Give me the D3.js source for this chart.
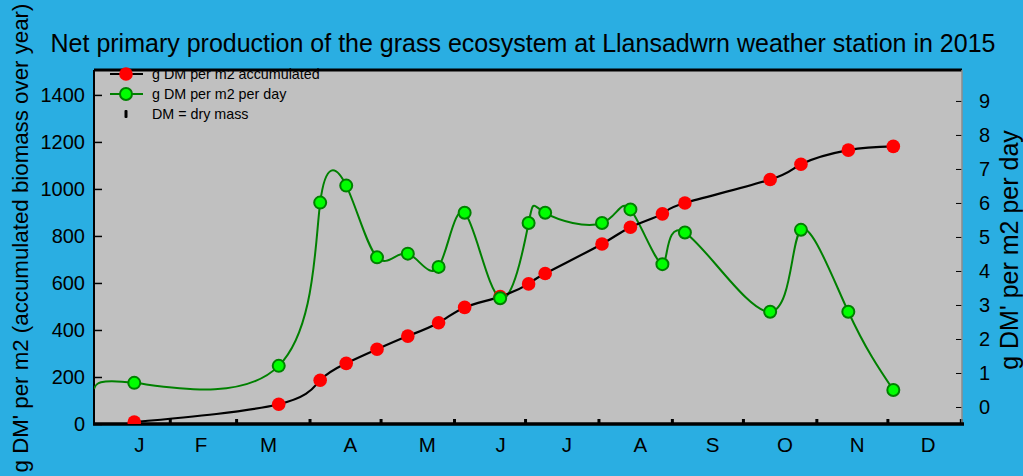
<!DOCTYPE html>
<html>
<head>
<meta charset="utf-8">
<script src="https://cdn.jsdelivr.net/npm/d3@7"></script>
<style>
  html, body { margin: 0; padding: 0; background: #2aaee2; }
  svg { display: block; font-family: "Liberation Sans", Arial, sans-serif; }
</style>
</head>
<body>
<div id="wrapper"></div>
<script>
// sampling dates (day of year, 0 = 1 Jan)
const sampleDays = [16, 77, 94.5, 105.5, 118.5, 131.5, 144.5, 155.5, 170.5, 182.5, 189.5, 213.5, 225.5, 239, 248.5, 284.5, 297.5, 317.5, 336.5]
// g DM per m2 accumulated (left axis)
const accumulated = [8, 84, 186, 258, 318, 374, 431, 496, 542, 596, 640, 766, 837, 894, 940, 1040, 1105, 1165, 1181]
// g DM per m2 per day (right axis)
const perDay = [0.71, 1.21, 6.01, 6.51, 4.40, 4.51, 4.12, 5.71, 3.20, 5.41, 5.71, 5.41, 5.81, 4.20, 5.13, 2.80, 5.21, 2.80, 0.50]
// where the daily curve enters at the left edge
const dailyLeadIn = { day: -1, value: 0.53 }

const monthNames = ["J", "F", "M", "A", "M", "J", "J", "A", "S", "O", "N", "D"]
const monthLabelDays = [18, 44, 72.5, 107, 139.5, 170.5, 198.5, 229.5, 260, 290.5, 321, 351]
const monthStartDays = [31, 59, 90, 120, 151, 181, 212, 243, 273, 304, 334, 365]
const leftTicks = [0, 200, 400, 600, 800, 1000, 1200, 1400]
const rightTicks = [0, 1, 2, 3, 4, 5, 6, 7, 8, 9]

const titleText = "Net primary production of the grass ecosystem at Llansadwrn weather station in 2015"
const leftTitle = "g DM' per m2 (accumulated biomass over year)"
const rightTitle = "g DM' per m2 per day"
const legendItems = ["g DM per m2 accumulated", "g DM per m2 per day", "DM = dry mass"]

const dimensions = {
    width: 1023,
    height: 476,
    margin: { top: 70, right: 61, bottom: 52, left: 94 }
}
dimensions.boundedWidth = dimensions.width - dimensions.margin.left - dimensions.margin.right
dimensions.boundedHeight = dimensions.height - dimensions.margin.top - dimensions.margin.bottom

const wrapper = d3.select("#wrapper")
    .append("svg")
    .attr("width", dimensions.width)
    .attr("height", dimensions.height)

wrapper.append("rect")
    .attr("width", dimensions.width)
    .attr("height", dimensions.height)
    .attr("fill", "#2aaee2")

const bounds = wrapper.append("g")
    .attr("transform", `translate(${dimensions.margin.left}, ${dimensions.margin.top})`)

const xScale = d3.scaleLinear()
    .domain([-1, 365.5])
    .range([0, dimensions.boundedWidth])

const yLeft = d3.scaleLinear()
    .domain([0, 1506])
    .range([dimensions.boundedHeight, 0])

const yRight = d3.scaleLinear()
    .domain([-0.5, 9.91])
    .range([dimensions.boundedHeight, 0])

// plot background
bounds.append("rect")
    .attr("width", dimensions.boundedWidth)
    .attr("height", dimensions.boundedHeight)
    .attr("fill", "#c0c0c0")

bounds.append("clipPath")
    .attr("id", "plot-clip")
    .append("rect")
    .attr("width", dimensions.boundedWidth)
    .attr("height", dimensions.boundedHeight)

// axes
const leftAxis = d3.axisLeft(yLeft)
    .tickValues(leftTicks)
    .tickSize(-8)
    .tickPadding(9)
    .tickFormat(d3.format("d"))
const leftAxisEl = bounds.append("g").call(leftAxis)

const rightAxis = d3.axisRight(yRight)
    .tickValues(rightTicks)
    .tickSize(-6)
    .tickPadding(17)
    .tickFormat(d3.format("d"))
const rightAxisEl = bounds.append("g")
    .attr("transform", `translate(${dimensions.boundedWidth}, 0)`)
    .call(rightAxis)

const monthTicks = d3.axisBottom(xScale)
    .tickValues(monthStartDays)
    .tickSize(-5)
    .tickFormat("")
const monthTicksEl = bounds.append("g")
    .attr("transform", `translate(0, ${dimensions.boundedHeight})`)
    .call(monthTicks)

const monthAxis = d3.axisBottom(xScale)
    .tickValues(monthLabelDays)
    .tickSize(0)
    .tickPadding(13)
    .tickFormat((d, i) => monthNames[i])
const monthAxisEl = bounds.append("g")
    .attr("transform", `translate(0, ${dimensions.boundedHeight})`)
    .call(monthAxis)

;[leftAxisEl, rightAxisEl, monthTicksEl, monthAxisEl].forEach(el => {
    el.select(".domain").remove()
    el.selectAll("text").attr("font-size", 20).attr("fill", "#000")
        .attr("font-family", "Liberation Sans, Arial, sans-serif")
})
leftAxisEl.selectAll("line").attr("stroke", "#000").attr("stroke-width", 1.5)
rightAxisEl.selectAll("line").attr("stroke", "#000").attr("stroke-width", 1)
monthTicksEl.selectAll("line").attr("stroke", "#000").attr("stroke-width", 3)
monthAxisEl.selectAll("text").attr("font-size", 20.5)

// frame
bounds.append("line")
    .attr("x1", 0).attr("x2", dimensions.boundedWidth)
    .attr("y1", 0).attr("y2", 0)
    .attr("stroke", "#000").attr("stroke-width", 3)
bounds.append("line")
    .attr("x1", 0).attr("x2", 0)
    .attr("y1", 0).attr("y2", dimensions.boundedHeight)
    .attr("stroke", "#000").attr("stroke-width", 2)
bounds.append("line")
    .attr("x1", dimensions.boundedWidth).attr("x2", dimensions.boundedWidth)
    .attr("y1", 0).attr("y2", dimensions.boundedHeight)
    .attr("stroke", "#8c8c8c").attr("stroke-width", 1.5)
bounds.append("line")
    .attr("x1", -1).attr("x2", dimensions.boundedWidth + 2)
    .attr("y1", dimensions.boundedHeight).attr("y2", dimensions.boundedHeight)
    .attr("stroke", "#000").attr("stroke-width", 3.5)

// data lines
const accPoints = sampleDays.map((d, i) => ({ day: d, value: accumulated[i] }))
const dayPoints = sampleDays.map((d, i) => ({ day: d, value: perDay[i] }))

const plot = bounds.append("g").attr("clip-path", "url(#plot-clip)")

const dailyLine = d3.line()
    .x(d => xScale(d.day))
    .y(d => yRight(d.value))
    .curve(d3.curveNatural)

const accLine = d3.line()
    .x(d => xScale(d.day))
    .y(d => yLeft(d.value))
    .curve(d3.curveNatural)

plot.append("path")
    .datum([dailyLeadIn, ...dayPoints])
    .attr("d", dailyLine)
    .attr("fill", "none")
    .attr("stroke", "#008000")
    .attr("stroke-width", 2)

plot.append("path")
    .datum(accPoints)
    .attr("d", accLine)
    .attr("fill", "none")
    .attr("stroke", "#000")
    .attr("stroke-width", 2.2)

plot.append("g")
    .selectAll("circle")
    .data(accPoints)
    .join("circle")
    .attr("cx", d => xScale(d.day))
    .attr("cy", d => yLeft(d.value))
    .attr("r", 6.8)
    .attr("fill", "#ff0000")

plot.append("g")
    .selectAll("circle")
    .data(dayPoints)
    .join("circle")
    .attr("cx", d => xScale(d.day))
    .attr("cy", d => yRight(d.value))
    .attr("r", 6)
    .attr("fill", "#00ff00")
    .attr("stroke", "#008000")
    .attr("stroke-width", 2)

// legend
const legend = bounds.append("g").attr("transform", "translate(16, 4)")
const legendRows = legend.selectAll("g")
    .data(legendItems)
    .join("g")
    .attr("transform", (d, i) => `translate(0, ${i * 20})`)

legendRows.filter((d, i) => i < 2).append("line")
    .attr("x1", 0).attr("x2", 33)
    .attr("stroke", (d, i) => i === 0 ? "#000" : "#008000")
    .attr("stroke-width", 2)
legendRows.filter((d, i) => i === 0).append("circle")
    .attr("cx", 16).attr("r", 6.8).attr("fill", "#ff0000")
legendRows.filter((d, i) => i === 1).append("circle")
    .attr("cx", 16).attr("r", 6)
    .attr("fill", "#00ff00").attr("stroke", "#008000").attr("stroke-width", 2)
legendRows.filter((d, i) => i === 2).append("rect")
    .attr("x", 14.5).attr("y", -4).attr("width", 3).attr("height", 8)
    .attr("rx", 1).attr("fill", "#000")
legendRows.append("text")
    .attr("x", 42)
    .attr("dy", "0.35em")
    .attr("font-size", 14.3)
    .attr("fill", "#000")
    .text(d => d)

// titles
wrapper.append("text")
    .attr("x", 523)
    .attr("y", 52)
    .attr("text-anchor", "middle")
    .attr("font-size", 25)
    .attr("fill", "#000")
    .text(titleText)

wrapper.append("text")
    .attr("transform", "translate(28, 238) rotate(-90)")
    .attr("text-anchor", "middle")
    .attr("font-size", 22.3)
    .attr("fill", "#000")
    .text(leftTitle)

wrapper.append("text")
    .attr("transform", "translate(1018, 250) rotate(-90)")
    .attr("text-anchor", "middle")
    .attr("font-size", 25)
    .attr("fill", "#000")
    .text(rightTitle)
</script>
</body>
</html>
